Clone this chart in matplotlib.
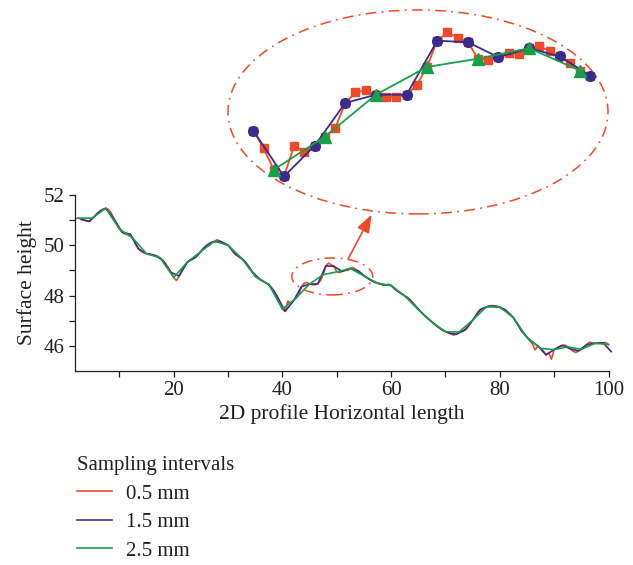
import numpy as np
import matplotlib
matplotlib.use("Agg")
import matplotlib.pyplot as plt
from matplotlib.patches import Ellipse, FancyArrowPatch

plt.rcParams['font.family'] = ['Liberation Serif', 'DejaVu Serif']

# profile heights sampled at 0.5 mm, 1.5 mm and 2.5 mm
x_05 = np.arange(2.0, 100.01, 0.5)
y_05 = [
    51.07, 51.08, 51.03, 50.99, 50.96, 50.95, 51.08, 51.15, 51.28, 51.38,
    51.44, 51.47, 51.42, 51.28, 51.05, 50.85, 50.65, 50.52, 50.45, 50.43,
    50.44, 50.28, 50.05, 49.86, 49.76, 49.70, 49.66, 49.66, 49.63, 49.60,
    49.57, 49.50, 49.40, 49.28, 49.10, 48.92, 48.72, 48.60, 48.78, 49.00,
    49.18, 49.33, 49.40, 49.45, 49.52, 49.62, 49.75, 49.88, 50.00, 50.07,
    50.12, 50.16, 50.22, 50.16, 50.12, 50.06, 50.00, 49.88, 49.70, 49.62,
    49.56, 49.48, 49.38, 49.25, 49.10, 48.93, 48.76, 48.68, 48.62, 48.56,
    48.50, 48.44, 48.32, 48.18, 47.98, 47.75, 47.46, 47.37, 47.78, 47.69,
    47.78, 47.90, 48.01, 48.35, 48.49, 48.52, 48.46, 48.43, 48.43, 48.46,
    48.59, 48.83, 49.18, 49.29, 49.22, 49.16, 48.94, 48.92, 48.96, 49.01,
    49.00, 49.08, 49.11, 49.04, 48.97, 48.88, 48.78, 48.71, 48.64, 48.58,
    48.53, 48.49, 48.46, 48.43, 48.42, 48.45, 48.40, 48.28, 48.20, 48.13,
    48.06, 47.99, 47.92, 47.84, 47.72, 47.58, 47.44, 47.33, 47.24, 47.14,
    47.04, 46.95, 46.86, 46.77, 46.69, 46.61, 46.56, 46.52, 46.47, 46.43,
    46.46, 46.55, 46.58, 46.62, 46.70, 46.85, 47.02, 47.18, 47.36, 47.45,
    47.50, 47.55, 47.58, 47.60, 47.59, 47.57, 47.54, 47.50, 47.43, 47.34,
    47.24, 47.12, 46.96, 46.78, 46.60, 46.46, 46.33, 46.22, 46.08, 45.84,
    46.00, 45.90, 45.80, 45.64, 45.72, 45.47, 45.85, 45.92, 45.98, 46.02,
    46.03, 45.96, 45.88, 45.78, 45.74, 45.80, 45.86, 45.95, 46.05, 46.15,
    46.12, 46.10, 46.10, 46.11, 46.12, 46.13, 46.05,
]

x_15 = np.arange(3.0, 100.51, 1.5)
y_15 = [
    51.03, 50.95, 51.28, 51.47, 51.05, 50.52, 50.44, 49.86, 49.66, 49.60,
    49.40, 48.92, 48.78, 49.33, 49.52, 49.88, 50.12, 50.16, 50.00, 49.62,
    49.38, 48.93, 48.62, 48.44, 47.98, 47.37, 47.78, 48.35, 48.46, 48.46,
    49.18, 49.16, 48.96, 49.08, 48.97, 48.71, 48.53, 48.43, 48.40, 48.13,
    47.92, 47.58, 47.24, 46.95, 46.69, 46.52, 46.46, 46.62, 47.02, 47.45,
    47.58, 47.57, 47.43, 47.12, 46.60, 46.22, 46.00, 45.64, 45.85, 46.02,
    45.88, 45.80, 46.05, 46.10, 46.12, 45.77,
]

x_25 = np.arange(2.5, 100.01, 2.5)
y_25 = [
    51.08, 51.08, 51.47, 50.65, 50.28, 49.66, 49.50, 48.72, 49.33, 49.75,
    50.16, 50.00, 49.48, 48.76, 48.44, 47.46, 47.90, 48.46, 48.83, 48.94,
    49.08, 48.78, 48.49, 48.40, 47.99, 47.44, 46.95, 46.56, 46.55, 47.02,
    47.55, 47.54, 47.12, 46.33, 45.90, 45.85, 45.96, 45.86, 46.10, 46.05,
]

labels = ['0.5 mm', '1.5 mm', '2.5 mm']
colors = ['#ef4a26', '#3a2c8e', '#17a04a']
markers = ['s', 'o', '^']
msizes = [6, 7, 8]

# zoomed window shown in the callout
win_lo, win_hi = 38.9, 55.6

series = [(x_05, np.array(y_05)), (x_15, np.array(y_15)), (x_25, np.array(y_25))]
txt = '#231f20'

fig = plt.figure(figsize=(6.33, 5.65), dpi=100)
ax = fig.add_axes([0.1185, 0.3434, 0.8428, 0.3115])

for (xs, ys), lab, c in zip(series, labels, colors):
    ax.plot(xs, ys, color=c, lw=1.2, label=lab, clip_on=False)

ax.set_xlim(1.84, 100)
ax.set_ylim(45, 52)
ax.set_xticks([20, 40, 60, 80, 100])
ax.set_xticks([10, 30, 50, 70, 90], minor=True)
ax.set_yticks([46, 48, 50, 52])
ax.set_yticks([47, 49, 51], minor=True)
ax.tick_params(which='both', direction='out', length=4, width=0.9,
               colors=txt, labelsize=15, labelcolor=txt)
for side in ['top', 'right']:
    ax.spines[side].set_visible(False)
for side in ['left', 'bottom']:
    ax.spines[side].set_linewidth(0.9)
    ax.spines[side].set_color(txt)
ax.set_xlabel('2D profile Horizontal length', fontsize=15.5, color=txt, labelpad=3)
ax.set_ylabel('Surface height', fontsize=15.5, color=txt, labelpad=5)

dashdot = (0, (7, 3.5, 1.2, 3.5))
ax.add_patch(Ellipse((49.17, 48.76), 14.9, 1.47, fill=False, ec=colors[0],
                     lw=1.1, ls=dashdot, clip_on=False))

# callout with the sampled points
ax_in = fig.add_axes([0.3518, 0.6253, 0.6455, 0.3717])
ax_in.set_xlim(37.5, 57.5)
ax_in.set_ylim(46.9, 49.7)
ax_in.axis('off')
for (xs, ys), c, m, ms in zip(series, colors, markers, msizes):
    sel = (xs >= win_lo) & (xs <= win_hi)
    ax_in.plot(xs[sel], ys[sel], color=c, lw=1.3, marker=m, ms=ms,
               mec=c, mfc=c, clip_on=False)
ax_in.add_patch(Ellipse((47.06, 48.23), 18.6, 2.72, fill=False, ec=colors[0],
                        lw=1.1, ls=dashdot, clip_on=False))

arrow = FancyArrowPatch((0.5482, 0.5381), (0.5893, 0.6248),
                        transform=fig.transFigure,
                        arrowstyle='-|>,head_length=0.55,head_width=0.2',
                        mutation_scale=20, color=colors[0], lw=1.2)
fig.add_artist(arrow)

leg = fig.legend(*ax.get_legend_handles_labels(), loc='upper left',
                 bbox_to_anchor=(77 / 633, 1 - 456 / 565), frameon=False,
                 title='Sampling intervals', alignment='left', fontsize=15,
                 title_fontsize=15, handlelength=1.7, handletextpad=0.65,
                 labelspacing=0.43, borderpad=0, borderaxespad=0)
for t in leg.get_texts():
    t.set_color(txt)
leg.get_title().set_color(txt)
for h in leg.legend_handles:
    h.set_linewidth(1.2)

fig.savefig('out.png', dpi=100, facecolor='white')
